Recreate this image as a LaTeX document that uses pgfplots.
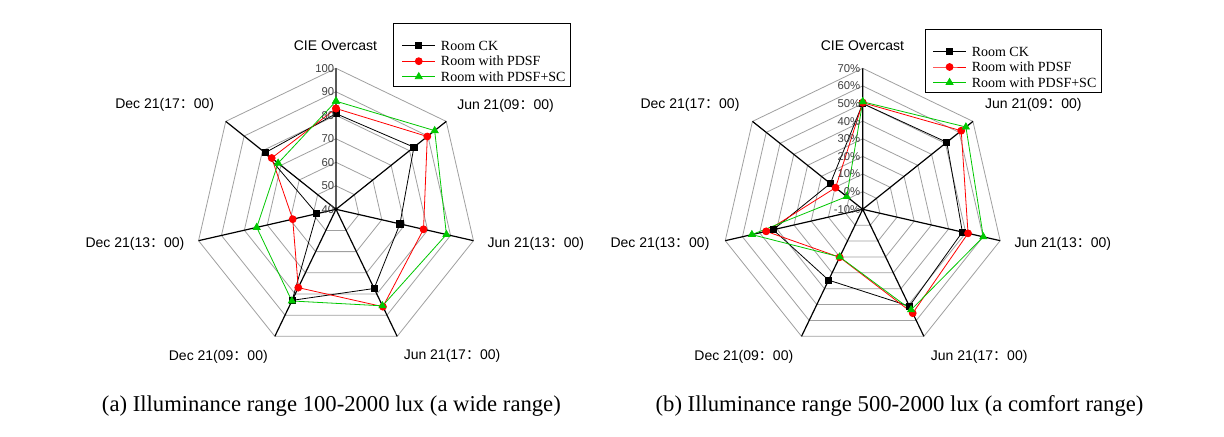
\documentclass[border=0pt]{standalone}
\usepackage{fontspec}
\setmainfont{Liberation Serif}
\setsansfont{Liberation Sans}
\newfontfamily\cjk{Noto Sans CJK SC}
\usepackage{pgfplots}
\usepackage{pgfplotstable}
\pgfplotsset{compat=1.18}

\definecolor{cgreen}{RGB}{0,200,0}
\definecolor{cgrid}{RGB}{160,160,160}
\definecolor{ctick}{RGB}{64,64,64}

% (a) illuminance 100-2000 lux, radius axis 40..100
\pgfplotstableread{
ang      ck    pdsf   sc
90       80.7  82.9   86.0
38.571   82.4  89.7   93.7
-12.857  67.9  78.2   88.2
-64.286  77.4  86.0   85.6
-115.714 83.0  77.0   83.3
-167.143 48.4  58.9   74.6
141.429  78.6  75.0   71.5
90       80.7  82.9   86.0
}\taba

% (b) illuminance 500-2000 lux, radius axis -10..70 (%)
\pgfplotstableread{
ang      ck    pdsf   sc
90       50.0  50.5   51.0
38.571   51.0  61.5   64.9
-12.857  48.0  51.3   60.2
-64.286  51.0  55.4   53.3
-115.714 34.6  20.2   20.0
-167.143 42.1  46.2   54.5
141.429  13.5  9.7    1.6
90       50.0  50.5   51.0
}\tabb

\pgfplotstableread{
ang      r
90       1
38.571   1
-12.857  1
-64.286  1
-115.714 1
-167.143 1
141.429  1
90       1
}\angtab

\pgfplotstableread{
ang r
90 0
90 141
38.571 0
38.571 141
-12.857 0
-12.857 141
-64.286 0
-64.286 141
-115.714 0
-115.714 141
-167.143 0
-167.143 141
141.429 0
141.429 141
}\spoketab

\pgfplotsset{
  radar/.style={
    anchor=origin, x=0.75pt, y=0.75pt,
    xmin=-150, xmax=150, ymin=-150, ymax=150,
    hide axis, clip=false,
    legend cell align=left,
    legend image code/.code={\draw[mark repeat=2,mark phase=2] plot coordinates {(0cm,0cm) (0.43cm,0cm) (0.86cm,0cm)};},
    legend style={draw=none, fill=none, anchor=center,
      font=\fontsize{10.5}{12}\selectfont, row sep=2.6pt, column sep=3.5pt, inner sep=0pt,
      nodes={inner sep=0.6pt, text height=7.4pt, text depth=0.4pt}},
  },
  ckstyle/.style={black, line width=0.6pt, mark=square*, mark size=2.3pt, mark options={solid}},
  pdsfstyle/.style={red, line width=0.6pt, mark=*, mark size=2.6pt, mark options={solid}},
  scstyle/.style={cgreen, line width=0.6pt, mark=triangle*, mark size=3pt, mark options={solid}},
}

\newcommand\lab[1]{{\sffamily\fontsize{10.5}{12}\selectfont #1}}
\newcommand\tk[1]{{\sffamily\fontsize{8.5}{9}\selectfont\color{ctick}#1}}

\begin{document}
\begin{tikzpicture}[x=0.75pt,y=-0.75pt]
\fill[white] (0,0) rectangle (1224,436);
\coordinate (ca) at (336,209.3);
\coordinate (cb) at (862.7,209.3);

% ---------------- (a)
\begin{axis}[radar, at={(ca)}, legend style={at={(axis cs:148.2,148.1)}}]
\pgfplotsinvokeforeach{23.5,47,70.5,94,117.5,141}{
  \addplot[cgrid, line width=0.6pt, no markers, forget plot]
    table[x expr={#1*cos(\thisrow{ang})}, y expr={#1*sin(\thisrow{ang})}] \angtab;
}
\addplot[black, line width=0.9pt, no markers, forget plot]
  table[x expr={\thisrow{r}*cos(\thisrow{ang})}, y expr={\thisrow{r}*sin(\thisrow{ang})}] \spoketab;
\addplot[ckstyle] table[x expr={(\thisrow{ck}-40)*2.35*cos(\thisrow{ang})}, y expr={(\thisrow{ck}-40)*2.35*sin(\thisrow{ang})}] \taba;
\addlegendentry{Room CK}
\addplot[pdsfstyle] table[x expr={(\thisrow{pdsf}-40)*2.35*cos(\thisrow{ang})}, y expr={(\thisrow{pdsf}-40)*2.35*sin(\thisrow{ang})}] \taba;
\addlegendentry{Room with PDSF}
\addplot[scstyle] table[x expr={(\thisrow{sc}-40)*2.35*cos(\thisrow{ang})}, y expr={(\thisrow{sc}-40)*2.35*sin(\thisrow{ang})}] \taba;
\addlegendentry{Room with PDSF+SC}
\end{axis}

% ---------------- (b)
\begin{axis}[radar, at={(cb)}, legend style={at={(axis cs:152.3,142.3)}}]
\pgfplotsinvokeforeach{17.625,35.25,52.875,70.5,88.125,105.75,123.375,141}{
  \addplot[cgrid, line width=0.6pt, no markers, forget plot]
    table[x expr={#1*cos(\thisrow{ang})}, y expr={#1*sin(\thisrow{ang})}] \angtab;
}
\addplot[black, line width=0.9pt, no markers, forget plot]
  table[x expr={\thisrow{r}*cos(\thisrow{ang})}, y expr={\thisrow{r}*sin(\thisrow{ang})}] \spoketab;
\addplot[ckstyle] table[x expr={(\thisrow{ck}+10)*1.7625*cos(\thisrow{ang})}, y expr={(\thisrow{ck}+10)*1.7625*sin(\thisrow{ang})}] \tabb;
\addlegendentry{Room CK}
\addplot[pdsfstyle] table[x expr={(\thisrow{pdsf}+10)*1.7625*cos(\thisrow{ang})}, y expr={(\thisrow{pdsf}+10)*1.7625*sin(\thisrow{ang})}] \tabb;
\addlegendentry{Room with PDSF}
\addplot[scstyle] table[x expr={(\thisrow{sc}+10)*1.7625*cos(\thisrow{ang})}, y expr={(\thisrow{sc}+10)*1.7625*sin(\thisrow{ang})}] \tabb;
\addlegendentry{Room with PDSF+SC}
\end{axis}

% legend frames
\draw[black, line width=0.6pt] (393.3,23) rectangle (570,86.7);
\draw[black, line width=0.6pt] (925,29) rectangle (1101.7,92.7);

% radial tick labels (a)
\foreach \v [count=\i from 0] in {40,50,60,70,80,90,100}
  \node[anchor=east, inner sep=0pt] at (334.5,209.3-23.5*\i) {\tk{\v}};
% radial tick labels (b)
\foreach \v [count=\i from 0] in {-10\%,0\%,10\%,20\%,30\%,40\%,50\%,60\%,70\%}
  \node[anchor=east, inner sep=0pt] at (860.5,209.3-17.625*\i) {\tk{\v}};

% category labels (a)
\node at (335.5,46) {\lab{CIE Overcast}};
\node at (505.5,106) {\lab{Jun 21(09{\cjk ：}00)}};
\node at (535.8,244) {\lab{Jun 21(13{\cjk ：}00)}};
\node at (452,356) {\lab{Jun 21(17{\cjk ：}00)}};
\node at (218.3,356.7) {\lab{Dec 21(09{\cjk ：}00)}};
\node at (135,244) {\lab{Dec 21(13{\cjk ：}00)}};
\node at (164.7,105) {\lab{Dec 21(17{\cjk ：}00)}};
% category labels (b)
\node at (862.5,45.7) {\lab{CIE Overcast}};
\node at (1033.3,105) {\lab{Jun 21(09{\cjk ：}00)}};
\node at (1062.8,244.3) {\lab{Jun 21(13{\cjk ：}00)}};
\node at (979.2,356.7) {\lab{Jun 21(17{\cjk ：}00)}};
\node at (743.8,357.3) {\lab{Dec 21(09{\cjk ：}00)}};
\node at (660,244.3) {\lab{Dec 21(13{\cjk ：}00)}};
\node at (690,105) {\lab{Dec 21(17{\cjk ：}00)}};

% captions
\node at (331.4,406) {\fontsize{17}{20}\selectfont (a) Illuminance range 100-2000 lux (a wide range)};
\node at (899.5,406) {\fontsize{17}{20}\selectfont (b) Illuminance range 500-2000 lux (a comfort range)};
\end{tikzpicture}
\end{document}
